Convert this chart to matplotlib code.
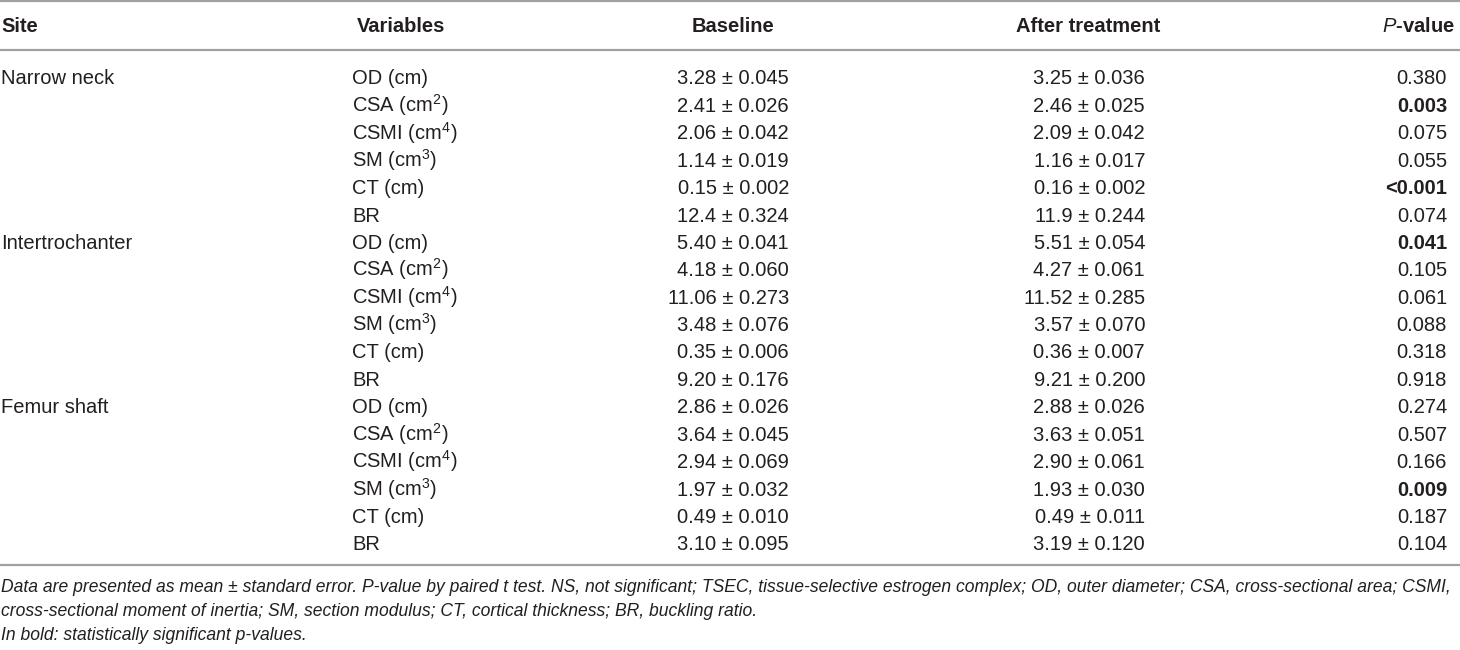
import matplotlib
matplotlib.use("Agg")
import matplotlib.pyplot as plt

plt.rcParams["font.family"] = ["Liberation Sans", "DejaVu Sans"]
plt.rcParams["mathtext.fontset"] = "custom"
plt.rcParams["mathtext.rm"] = "Liberation Sans"
plt.rcParams["mathtext.it"] = "Liberation Sans:italic"
plt.rcParams["mathtext.bf"] = "Liberation Sans:bold"

HEADERS = ["Site", "Variables", "Baseline", "After treatment", "P-value"]
SITES = ["Narrow neck", "Intertrochanter", "Femur shaft"]
VARIABLES = ["OD (cm)", "CSA (cm$^{2}$)", "CSMI (cm$^{4}$)", "SM (cm$^{3}$)",
             "CT (cm)", "BR"]
BASELINE = [
    "3.28 ± 0.045", "2.41 ± 0.026", "2.06 ± 0.042", "1.14 ± 0.019", "0.15 ± 0.002", "12.4 ± 0.324",
    "5.40 ± 0.041", "4.18 ± 0.060", "11.06 ± 0.273", "3.48 ± 0.076", "0.35 ± 0.006", "9.20 ± 0.176",
    "2.86 ± 0.026", "3.64 ± 0.045", "2.94 ± 0.069", "1.97 ± 0.032", "0.49 ± 0.010", "3.10 ± 0.095",
]
AFTER = [
    "3.25 ± 0.036", "2.46 ± 0.025", "2.09 ± 0.042", "1.16 ± 0.017", "0.16 ± 0.002", "11.9 ± 0.244",
    "5.51 ± 0.054", "4.27 ± 0.061", "11.52 ± 0.285", "3.57 ± 0.070", "0.36 ± 0.007", "9.21 ± 0.200",
    "2.88 ± 0.026", "3.63 ± 0.051", "2.90 ± 0.061", "1.93 ± 0.030", "0.49 ± 0.011", "3.19 ± 0.120",
]
PVALUES = [
    "0.380", "0.003", "0.075", "0.055", "<0.001", "0.074",
    "0.041", "0.105", "0.061", "0.088", "0.318", "0.918",
    "0.274", "0.507", "0.166", "0.009", "0.187", "0.104",
]
FOOTNOTES = [
    "Data are presented as mean ± standard error. P-value by paired t test. NS, not significant; "
    "TSEC, tissue-selective estrogen complex; OD, outer diameter; CSA, cross-sectional area; CSMI,",
    "cross-sectional moment of inertia; SM, section modulus; CT, cortical thickness; BR, buckling ratio.",
    "In bold: statistically significant p-values.",
]

W, H = 1460, 650
TXT = "#231f20"
LINE = "#a0a0a0"
FS = 14.5

fig = plt.figure(figsize=(W / 100, H / 100), dpi=100)
ax = fig.add_axes([0, 0, 1, 1])
ax.set_xlim(0, W)
ax.set_ylim(H, 0)
ax.axis("off")

# column anchors (pixels)
x_site, x_var, x_base_h, x_base, x_after_h, x_after, x_p_h, x_p = 1, 352, 733, 789, 1088, 1145, 1455, 1447
y_head, y_row0, dy = 24, 77, 27.4
base_off = 7.5   # centre -> baseline

for y in (1, 50, 565):
    ax.plot([0, W], [y, y], color=LINE, lw=1.6, solid_capstyle="butt")

hd = dict(fontsize=FS, fontweight="bold", color=TXT, va="baseline")
yh = y_head + base_off
ax.text(x_site, yh, HEADERS[0], ha="left", **hd)
ax.text(x_var + 5, yh, HEADERS[1], ha="left", **hd)
ax.text(x_base_h, yh, HEADERS[2], ha="center", **hd)
ax.text(x_after_h, yh, HEADERS[3], ha="center", **hd)
ax.text(x_p_h, yh, r"$\mathit{P}$-value", ha="right", **hd)

body = dict(fontsize=FS, color=TXT, va="baseline")
n_var = len(VARIABLES)
for i in range(len(BASELINE)):
    y = y_row0 + i * dy + base_off
    if i % n_var == 0:
        ax.text(x_site, y, SITES[i // n_var], ha="left", **body)
    ax.text(x_var, y, VARIABLES[i % n_var], ha="left", **body)
    ax.text(x_base, y, BASELINE[i], ha="right", **body)
    ax.text(x_after, y, AFTER[i], ha="right", **body)
    sig = float(PVALUES[i].lstrip("<")) < 0.05
    ax.text(x_p, y, PVALUES[i], ha="right",
            fontweight="bold" if sig else "normal", **body)

# footnotes: italic, first line fitted to the table width
fn_y = [588, 612, 636]
texts = []
for s, y in zip(FOOTNOTES, fn_y):
    texts.append(ax.text(1, y, s, ha="left", va="center", fontsize=FS,
                         style="italic", color=TXT))
fig.canvas.draw()
r = fig.canvas.get_renderer()
w0 = texts[0].get_window_extent(renderer=r).width
fs_fn = FS * 1456 / w0
for t in texts:
    t.set_fontsize(fs_fn)

fig.savefig("out.png", dpi=100)
